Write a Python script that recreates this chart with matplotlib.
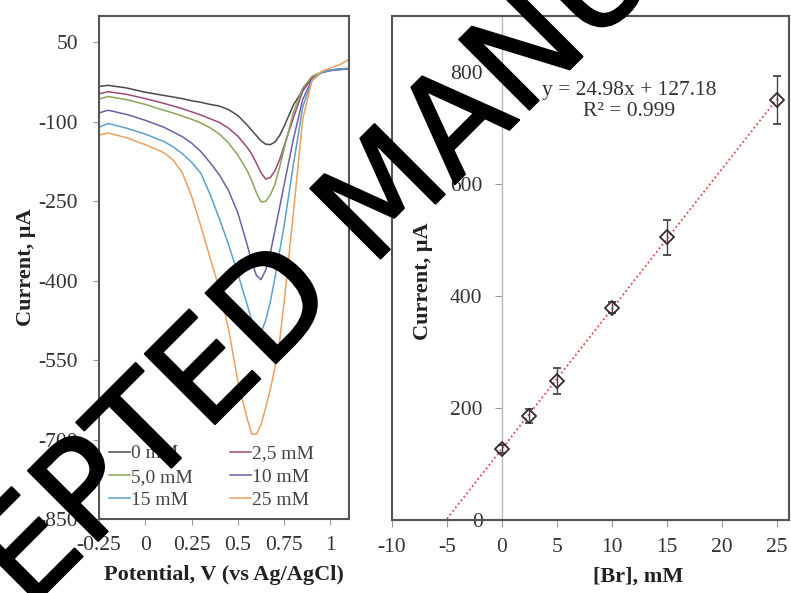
import matplotlib
matplotlib.use("Agg")
import matplotlib.pyplot as plt
import matplotlib.patheffects as pe
from matplotlib.patches import Rectangle

plt.rcParams['font.family'] = ['Liberation Serif', 'DejaVu Serif']
plt.rcParams['axes.unicode_minus'] = False

# ---- left panel: voltammograms ----
potential = [-0.25, -0.2, -0.1, 0.0, 0.1, 0.15, 0.2, 0.25, 0.3, 0.35, 0.4, 0.45, 0.5, 0.55,
             0.575, 0.6, 0.625, 0.65, 0.675, 0.7, 0.725, 0.75, 0.8, 0.85, 0.9, 0.95, 1.0,
             1.05, 1.1]
i_0mM = [-33, -31, -36, -44, -50, -53, -56, -60, -63, -67, -70, -77, -88, -106,
         -116, -126, -136, -142, -143, -138, -126, -108, -68, -40, -18, -7, -2, 0, 1]
i_2_5mM = [-47, -43, -48, -56, -65, -70, -75, -81, -87, -94, -101, -112, -127, -148,
           -161, -178, -196, -208, -205, -192, -172, -145, -92, -42, -17, -7, -3, -1, 0]
i_5mM = [-57, -52, -58, -67, -78, -83, -89, -95, -102, -111, -123, -140, -163, -192,
         -211, -234, -251, -250, -238, -218, -186, -150, -82, -36, -14, -6, -2, -1, 0]
i_10mM = [-83, -78, -86, -97, -110, -119, -128, -140, -156, -177, -200, -230, -272, -332,
          -364, -390, -398, -380, -348, -305, -262, -218, -132, -58, -20, -7, -3, -1, 0]
i_15mM = [-110, -103, -112, -123, -137, -147, -160, -176, -197, -237, -283, -332, -387,
          -445, -475, -495, -498, -475, -440, -395, -345, -295, -180, -72, -22, -7, -2, 0, 1]
i_25mM = [-125, -121, -130, -143, -158, -172, -196, -240, -297, -357, -415, -492, -590,
          -660, -690, -690, -672, -640, -605, -565, -515, -440, -270, -95, -22, -5, 2, 8, 18]

labels = ['0 mM', '2,5 mM', '5,0 mM', '10 mM', '15 mM', '25 mM']
colors = ['#4a4a4a', '#9c4a78', '#8aa55a', '#6e5ea8', '#5aa0cc', '#eba060']

# ---- right panel: calibration ----
conc = [0, 2.5, 5, 10, 15, 25]
peak_current = [127, 186, 248, 379, 505, 750]
peak_err = [7, 13, 23, 10, 31, 42]
slope, intercept = 24.98, 127.18
fit_x = [-5, 25]

fig = plt.figure(figsize=(7.91, 5.93), dpi=100)
ax1 = fig.add_axes([99 / 791, 74 / 593, 250 / 791, 503 / 593])
ax2 = fig.add_axes([392 / 791, 73 / 593, 397 / 791, 504 / 593])

tick_color = '#333333'
edge = '#555555'

series = [i_0mM, i_2_5mM, i_5mM, i_10mM, i_15mM, i_25mM]
lines = []
for vals, lab, col in zip(series, labels, colors):
    ln, = ax1.plot(potential, vals, color=col, lw=1.1, label=lab)
    lines.append(ln)

ax1.set_xlim(-0.25, 1.1)
ax1.set_ylim(-850, 100)
ax1.set_xticks([-0.25, 0, 0.25, 0.5, 0.75, 1])
ax1.set_xticklabels(['-0.25', '0', '0.25', '0.5', '0.75', '1'])
ax1.set_yticks([50, -100, -250, -400, -550, -700, -850])
ax1.set_yticklabels(['50', '-100', '-250', '-400', '-550', '-700', '-850'])
ax1.tick_params(axis='both', labelsize=15.5, colors='#999999', labelcolor=tick_color,
                length=4, width=0.8, pad=8)
ax1.tick_params(axis='y', pad=11)
for s in ax1.spines.values():
    s.set_color(edge)
    s.set_linewidth(1.5)
ax1.set_xlabel('Potential, V (vs Ag/AgCl)', fontsize=16, fontweight='bold', color='#222222')
ax1.set_ylabel('Current, μA', fontsize=16, fontweight='bold', color='#222222')
ax1.xaxis.set_label_coords(0.5, -0.092)
ax1.yaxis.set_label_coords(-0.25, 0.5)

order = [0, 2, 4, 1, 3, 5]
ax1.legend([lines[k] for k in order], [labels[k] for k in order], ncol=2,
           loc='lower left', bbox_to_anchor=(0.0, 0.0), frameon=False, fontsize=14,
           handlelength=1.1, handletextpad=0.05, labelspacing=0.3, columnspacing=1.9,
           borderaxespad=0.1, labelcolor='#444444')

# calibration plot
ax2.plot(fit_x, [slope * v + intercept for v in fit_x], color='#e04848', lw=1.3,
         linestyle=(0, (1, 1.5)), zorder=2)
ax2.errorbar(conc, peak_current, yerr=peak_err, fmt='D', ms=7, mfc='none',
             mec='#3a2a30', mew=1.3, ecolor='#444444', elinewidth=1.0, capsize=3,
             capthick=1.0, zorder=3)
ax2.set_xlim(-10, 26.1)
ax2.set_ylim(0, 900)
ax2.set_xticks([-10, -5, 0, 5, 10, 15, 20, 25])
ax2.set_yticks([0, 200, 400, 600, 800])
ax2.spines['left'].set_position(('data', 0))
ax2.spines['left'].set_color('#b8b8b8')
ax2.spines['left'].set_linewidth(1.0)
for k in ['top', 'right', 'bottom']:
    ax2.spines[k].set_color(edge)
    ax2.spines[k].set_linewidth(1.5)
ax2.add_patch(Rectangle((0, 0), 1, 1, transform=ax2.transAxes, fill=False,
                        edgecolor=edge, lw=1.5, clip_on=False, zorder=5))
ax2.tick_params(axis='both', labelsize=15.5, colors='#999999', labelcolor=tick_color,
                length=5, width=0.8, pad=8)
ax2.tick_params(axis='y', pad=9)
ax2.set_xlabel('[Br], mM', fontsize=16, fontweight='bold', color='#222222')
ax2.set_ylabel('Current, μA', fontsize=16, fontweight='bold', color='#222222')
ax2.xaxis.set_label_coords(0.62, -0.092)
ax2.yaxis.set_label_coords(0.103, 0.474)
ax2.text(11.6, 749, 'y = 24.98x + 127.18\nR² = 0.999', ha='center', va='center',
         fontsize=15.5, color='#333333', linespacing=1.15)

# watermark
fig.text(0.526, 0.624, 'ACCEPTED MANUSCRIPT', fontsize=98, family='DejaVu Sans',
         color='black', rotation=45, rotation_mode='anchor', ha='center',
         va='baseline', zorder=10,
         path_effects=[pe.withStroke(linewidth=1.5, foreground='black')])

fig.savefig('out.png', dpi=100)
